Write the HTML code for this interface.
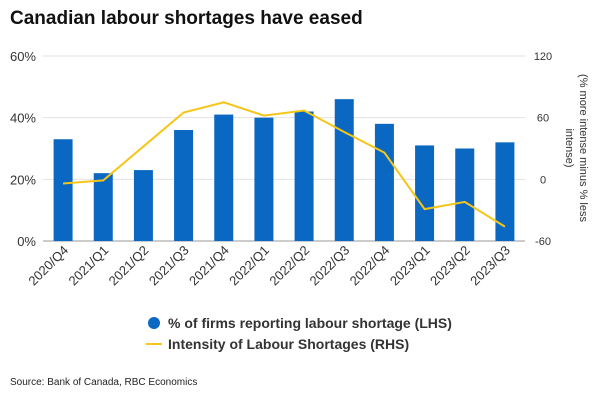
<!DOCTYPE html>
<html><head><meta charset="utf-8"><style>
body{margin:0;background:#fff;font-family:"Liberation Sans",sans-serif;}
svg text{font-family:"Liberation Sans",sans-serif;}
</style></head><body>
<svg width="600" height="400" xmlns="http://www.w3.org/2000/svg">
<text x="10" y="24" font-size="19" font-weight="bold" fill="#111">Canadian labour shortages have eased</text>
<g id="grid"></g><g id="bars"></g><g id="line"></g><g id="axes"></g>
<g>
<circle cx="154" cy="323" r="6" fill="#0a67c2"/>
<text x="168" y="328" font-size="14" font-weight="bold" fill="#333">% of firms reporting labour shortage (LHS)</text>
<line x1="146" y1="344" x2="162" y2="344" stroke="#f5c518" stroke-width="2"/>
<text x="168" y="349" font-size="14" font-weight="bold" fill="#333">Intensity of Labour Shortages (RHS)</text>
</g>
<text x="10" y="385" font-size="10" fill="#222">Source: Bank of Canada, RBC Economics</text>
<text transform="translate(574,148) rotate(90)" text-anchor="middle" font-size="11" fill="#333"><tspan x="0" dy="-6">(% more intense minus % less</tspan><tspan x="0" dy="14">intense)</tspan></text>
</svg>
<script>
const categories=["2020/Q4","2021/Q1","2021/Q2","2021/Q3","2021/Q4","2022/Q1","2022/Q2","2022/Q3","2022/Q4","2023/Q1","2023/Q2","2023/Q3"];
const shareValues=[33,22,23,36,41,40,42,46,38,31,30,32];
const intensityValues=[-4,-1,32,65,75,62,67,46,26,-29,-22,-46];
const leftTicks=[0,20,40,60];
const rightTicks=[-60,0,60,120];
const NS="http://www.w3.org/2000/svg";
const x0=43,x1=525,yTop=56,yBot=241;
const bw=(x1-x0)/categories.length;
const xC=i=>x0+bw*(i+0.5);
const yL=v=>yBot-(v/60)*(yBot-yTop);
const yR=v=>yBot-((v+60)/180)*(yBot-yTop);
function mk(tag,attrs,parent){const e=document.createElementNS(NS,tag);for(const k in attrs)e.setAttribute(k,attrs[k]);document.getElementById(parent).appendChild(e);return e;}
leftTicks.forEach(t=>{
 const l=mk('line',{x1:x0,x2:x1,y1:yL(t),y2:yL(t),stroke:t===0?'#999':'#e2e2e2','stroke-width':1},'grid');
 
 
 const tx=mk('text',{x:36,y:yL(t)+5,'text-anchor':'end','font-size':13,fill:'#333'},'axes');
 tx.textContent=t+'%';
 
 
});
rightTicks.forEach(t=>{
 const tx=mk('text',{x:543,y:yR(t)+4,'text-anchor':'middle','font-size':11,fill:'#333'},'axes');
 tx.textContent=t;
 
 
});
categories.forEach((c,i)=>{
 const r=mk('rect',{x:xC(i)-9.5,y:yL(shareValues[i]),width:19,height:yBot-yL(shareValues[i]),fill:'#0a67c2'},'bars');
 
 
 const tx=mk('text',{transform:`translate(${xC(i)+6},${yBot+10}) rotate(-45)`,'text-anchor':'end','font-size':13,fill:'#333'},'axes');
 tx.textContent=c;
 
 
});
const pts=intensityValues.map((v,i)=>xC(i)+','+yR(v)).join(' ');
const pl=mk('polyline',{points:pts,fill:'none',stroke:'#f5c518','stroke-width':2},'line');


</script>
</body></html>
